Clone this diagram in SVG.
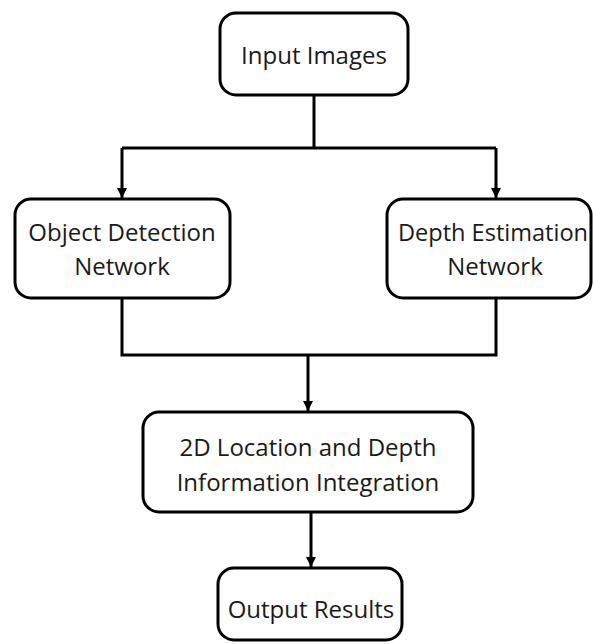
<svg xmlns="http://www.w3.org/2000/svg" width="593" height="644" viewBox="0 0 593 644">
<style>
.box{fill:#fff;stroke:#000;stroke-width:3}
.t{font-family:"Open Sans","Liberation Sans",sans-serif;font-size:24px;fill:#1a1a1a;text-anchor:middle}
.c{fill:none;stroke:#000;stroke-width:3}
</style>
<defs>
<marker id="ah" viewBox="0 0 10 10" refX="10" refY="5" markerWidth="10" markerHeight="10" markerUnits="userSpaceOnUse" orient="auto">
<path d="M0,0 L10,5 L0,10 z" fill="#000"/>
</marker>
</defs>
<rect width="593" height="644" fill="#fff"/>
<g id="connectors">
<path class="c" d="M314,95 V148 M122,148 H496"/>
<path class="c" d="M122,148 V198" marker-end="url(#ah)"/>
<path class="c" d="M496,148 V198" marker-end="url(#ah)"/>
<path class="c" d="M122,298 V355 H496 V298"/>
<path class="c" d="M308,355 V411" marker-end="url(#ah)"/>
<path class="c" d="M311,512 V567" marker-end="url(#ah)"/>
</g>
<g id="input">
<rect class="box" x="220" y="13" width="188" height="82" rx="16"/>
<text class="t" x="314" y="64">Input Images</text>
</g>
<g id="objdet">
<rect class="box" x="15" y="199" width="215" height="99" rx="16"/>
<text class="t" x="122" y="241">Object Detection</text>
<text class="t" x="122" y="275">Network</text>
</g>
<g id="depth">
<rect class="box" x="387" y="199" width="204" height="99" rx="16"/>
<text class="t" x="493" y="241" textLength="190" lengthAdjust="spacingAndGlyphs">Depth Estimation</text>
<text class="t" x="495" y="275">Network</text>
</g>
<g id="integ">
<rect class="box" x="143" y="412" width="330" height="100" rx="16"/>
<text class="t" x="308" y="456">2D Location and Depth</text>
<text class="t" x="308" y="491">Information Integration</text>
</g>
<g id="output">
<rect class="box" x="218" y="568" width="184" height="72" rx="16"/>
<text class="t" x="311" y="618">Output Results</text>
</g>
</svg>
